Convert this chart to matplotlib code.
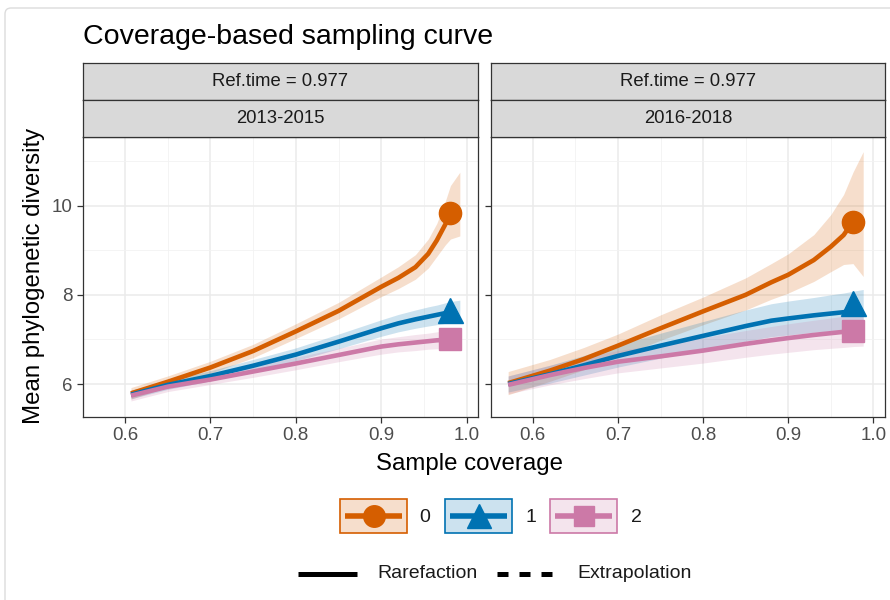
import matplotlib
matplotlib.use('Agg')
import matplotlib.pyplot as plt
from matplotlib.patches import Rectangle, FancyBboxPatch
from matplotlib.ticker import MultipleLocator

plt.rcParams['font.family'] = ['Liberation Sans', 'DejaVu Sans']

title = "Coverage-based sampling curve"
panel_names = ["2013-2015", "2016-2018"]
ref_label = "Ref.time = 0.977"
orders = ["0", "1", "2"]
colors = ["#D55E00", "#0072B2", "#CC79A7"]
markers = ["o", "^", "s"]
xlabel = "Sample coverage"
ylabel = "Mean phylogenetic diversity"
xticks = [0.6, 0.7, 0.8, 0.9, 1.0]
xticklabels = ["0.6", "0.7", "0.8", "0.9", "1.0"]
yticks = [6, 8, 10]
yticklabels = ["6", "8", "10"]

# ---- panel 1 (2013-2015) ----
x_p1 = [0.607, 0.65, 0.70, 0.75, 0.80, 0.85, 0.90, 0.92, 0.94, 0.955, 0.965, 0.975, 0.981]
y_p1_q0 = [5.79, 6.05, 6.37, 6.74, 7.18, 7.64, 8.18, 8.38, 8.62, 8.92, 9.22, 9.58, 9.83]
y_p1_q1 = [5.76, 5.98, 6.18, 6.41, 6.66, 6.95, 7.25, 7.36, 7.45, 7.51, 7.55, 7.59, 7.61]
y_p1_q2 = [5.74, 5.94, 6.10, 6.28, 6.46, 6.65, 6.84, 6.89, 6.93, 6.96, 6.98, 6.99, 7.00]
bx_p1 = [0.607, 0.65, 0.70, 0.75, 0.80, 0.85, 0.90, 0.92, 0.94, 0.955, 0.965, 0.975, 0.981, 0.992]
lo_p1_q0 = [5.66, 5.93, 6.24, 6.59, 7.02, 7.46, 7.96, 8.14, 8.35, 8.60, 8.86, 9.12, 9.25, 9.32]
hi_p1_q0 = [5.92, 6.18, 6.51, 6.89, 7.35, 7.83, 8.40, 8.63, 8.90, 9.25, 9.60, 10.10, 10.45, 10.75]
lo_p1_q1 = [5.67, 5.88, 6.07, 6.28, 6.52, 6.79, 7.07, 7.17, 7.25, 7.30, 7.33, 7.36, 7.38, 7.40]
hi_p1_q1 = [5.86, 6.08, 6.30, 6.55, 6.81, 7.12, 7.44, 7.56, 7.66, 7.73, 7.77, 7.82, 7.85, 7.88]
lo_p1_q2 = [5.62, 5.83, 5.99, 6.15, 6.32, 6.50, 6.67, 6.72, 6.75, 6.78, 6.79, 6.80, 6.81, 6.82]
hi_p1_q2 = [5.86, 6.05, 6.22, 6.41, 6.60, 6.80, 7.01, 7.06, 7.11, 7.14, 7.17, 7.19, 7.20, 7.22]
ref_x_p1 = 0.981
ref_y_p1 = [9.83, 7.66, 7.00]

# ---- panel 2 (2016-2018) ----
x_p2 = [0.571, 0.62, 0.66, 0.70, 0.75, 0.80, 0.85, 0.88, 0.90, 0.93, 0.95, 0.965, 0.976]
y_p2_q0 = [6.02, 6.30, 6.56, 6.86, 7.25, 7.63, 8.00, 8.28, 8.45, 8.78, 9.08, 9.34, 9.64]
y_p2_q1 = [6.00, 6.22, 6.42, 6.63, 6.86, 7.08, 7.30, 7.42, 7.47, 7.54, 7.58, 7.61, 7.63]
y_p2_q2 = [5.98, 6.20, 6.36, 6.50, 6.62, 6.75, 6.90, 6.98, 7.03, 7.10, 7.14, 7.17, 7.19]
bx_p2 = [0.571, 0.62, 0.66, 0.70, 0.75, 0.80, 0.85, 0.88, 0.90, 0.93, 0.95, 0.965, 0.976, 0.988]
lo_p2_q0 = [5.76, 6.06, 6.32, 6.60, 6.98, 7.33, 7.66, 7.90, 8.04, 8.30, 8.52, 8.68, 8.70, 8.41]
hi_p2_q0 = [6.28, 6.55, 6.82, 7.12, 7.55, 7.95, 8.38, 8.70, 8.92, 9.35, 9.80, 10.25, 10.75, 11.21]
lo_p2_q1 = [5.82, 6.02, 6.20, 6.38, 6.58, 6.77, 6.96, 7.06, 7.10, 7.16, 7.19, 7.21, 7.22, 7.23]
hi_p2_q1 = [6.18, 6.42, 6.64, 6.88, 7.14, 7.40, 7.66, 7.80, 7.86, 7.94, 8.00, 8.04, 8.08, 8.12]
lo_p2_q2 = [5.78, 5.98, 6.12, 6.25, 6.36, 6.47, 6.60, 6.67, 6.71, 6.77, 6.80, 6.82, 6.84, 6.85]
hi_p2_q2 = [6.18, 6.42, 6.60, 6.75, 6.89, 7.04, 7.20, 7.29, 7.35, 7.43, 7.48, 7.52, 7.55, 7.57]
ref_x_p2 = 0.976
ref_y_p2 = [9.64, 7.81, 7.19]

panels = [
    dict(x=x_p1, ys=[y_p1_q0, y_p1_q1, y_p1_q2], bx=bx_p1,
         lo=[lo_p1_q0, lo_p1_q1, lo_p1_q2], hi=[hi_p1_q0, hi_p1_q1, hi_p1_q2],
         rx=ref_x_p1, ry=ref_y_p1),
    dict(x=x_p2, ys=[y_p2_q0, y_p2_q1, y_p2_q2], bx=bx_p2,
         lo=[lo_p2_q0, lo_p2_q1, lo_p2_q2], hi=[hi_p2_q0, hi_p2_q1, hi_p2_q2],
         rx=ref_x_p2, ry=ref_y_p2),
]

W, H = 890, 600
fig = plt.figure(figsize=(W / 100, H / 100), dpi=100)


def fx(px):
    return px / W


def fy(py):
    return 1 - py / H


# outer card frame
bg = fig.add_axes([0, 0, 1, 1])
bg.set_xlim(0, W)
bg.set_ylim(H, 0)
bg.axis('off')
bg.add_patch(FancyBboxPatch((5, 8), 900, 620, boxstyle="round,pad=0,rounding_size=6",
                            fc='white', ec='#DCDCDC', lw=1.0, zorder=0))

panel_px = [(82.7, 478.3), (490.7, 885.0)]
top_px, bot_px = 136.5, 416.7
strip_h = 36.8
edge = '#333333'
marker_sizes = [16, 18, 15.5]

for i, (p, (l, r)) in enumerate(zip(panels, panel_px)):
    ax = fig.add_axes([fx(l), fy(bot_px), fx(r - l), (bot_px - top_px) / H])
    ax.set_xlim(0.5505, 1.0136)
    ax.set_ylim(5.267, 11.55)
    ax.set_facecolor('white')
    ax.xaxis.set_minor_locator(MultipleLocator(0.05))
    ax.yaxis.set_minor_locator(MultipleLocator(1))
    ax.set_xticks(xticks)
    ax.set_xticklabels(xticklabels)
    ax.set_yticks(yticks)
    if i == 0:
        ax.set_yticklabels(yticklabels)
    else:
        ax.set_yticklabels([])
    ax.grid(which='major', color='#EBEBEB', lw=1.1, zorder=0)
    ax.grid(which='minor', color='#F2F2F2', lw=0.6, zorder=0)
    ax.set_axisbelow(True)
    ax.tick_params(which='major', length=4.5, width=0.9, color=edge,
                   labelsize=13.5, labelcolor='#4D4D4D', pad=3)
    ax.tick_params(which='minor', length=0)
    for s in ax.spines.values():
        s.set_color(edge)
        s.set_linewidth(0.9)
    for k in range(3):
        ax.fill_between(p['bx'], p['lo'][k], p['hi'][k], color=colors[k],
                        alpha=0.2, lw=0, zorder=2)
    for k in range(3):
        ax.plot(p['x'], p['ys'][k], color=colors[k], lw=3.3, solid_capstyle='butt',
                solid_joinstyle='round', zorder=3)
    for k in range(3):
        ax.plot([p['rx']], [p['ry'][k]], marker=markers[k], color=colors[k],
                ms=marker_sizes[k], mec=colors[k], ls='none', zorder=4,
                clip_on=False)
    # strips
    for j, (txt, sy) in enumerate([(ref_label, top_px - 2 * strip_h),
                                   (panel_names[i], top_px - strip_h)]):
        sax = fig.add_axes([fx(l), fy(sy + strip_h), fx(r - l), strip_h / H])
        sax.set_facecolor('#D9D9D9')
        sax.set_xticks([])
        sax.set_yticks([])
        for s in sax.spines.values():
            s.set_color(edge)
            s.set_linewidth(0.9)
        sax.text(0.5, 0.5, txt, ha='center', va='center', fontsize=13.3,
                 color='#1A1A1A', transform=sax.transAxes)

# titles
fig.text(fx(83), fy(37), title, fontsize=20.5, ha='left', va='center', color='black')
fig.text(fx(470), fy(464), xlabel, fontsize=17.3, ha='center', va='center', color='black')
fig.text(fx(34), fy(276), ylabel, fontsize=17.3, ha='center', va='center',
         rotation=90, color='black')

# legend: order
box_x = [340, 445, 550]
lab_x = [425, 531, 636]
bw, bh = 67, 34
by = 499
for k in range(3):
    bg.add_patch(Rectangle((box_x[k], by), bw, bh, facecolor=colors[k], alpha=0.2,
                           lw=0, zorder=2))
    bg.add_patch(Rectangle((box_x[k], by), bw, bh, facecolor='none',
                           edgecolor=colors[k], lw=1.2, zorder=3))
    cx = box_x[k] + bw / 2
    cy = by + bh / 2
    bg.plot([box_x[k] + 5, box_x[k] + bw - 5], [cy, cy], color=colors[k], lw=4,
            solid_capstyle='butt', zorder=4)
    bg.plot([cx], [cy], marker=markers[k], color=colors[k], ms=marker_sizes[k] - 0.5,
            ls='none', zorder=5)
    bg.text(lab_x[k], cy + 1, orders[k], fontsize=14, ha='center', va='center',
            color='#1A1A1A')

# legend: linetype
ly = 574
bg.plot([298, 357], [ly, ly], color='black', lw=3.6, solid_capstyle='butt')
bg.text(377, ly, "Rarefaction", fontsize=14, ha='left', va='center', color='#1A1A1A')
bg.plot([497, 558], [ly, ly], color='black', lw=3.6, ls=(0, (2.2, 2.2)),
        dash_capstyle='butt')
bg.text(577, ly, "Extrapolation", fontsize=14, ha='left', va='center', color='#1A1A1A')

fig.savefig('out.png', dpi=100)
